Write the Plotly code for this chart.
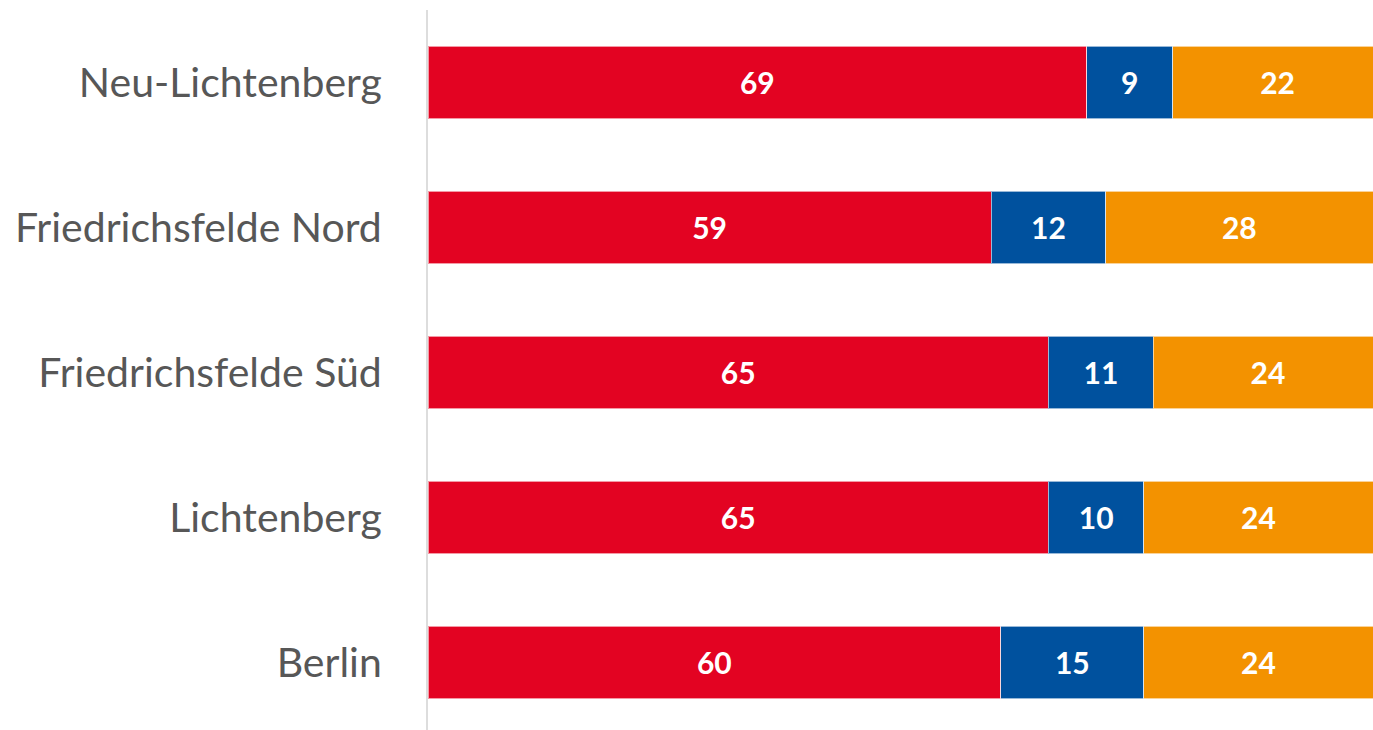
import plotly.graph_objects as go

categories = ["Neu-Lichtenberg", "Friedrichsfelde Nord", "Friedrichsfelde Süd", "Lichtenberg", "Berlin"]
red_values = [69, 59, 65, 65, 60]
blue_values = [9, 12, 11, 10, 15]
orange_values = [22, 28, 24, 24, 24]

series = [
    ("rot", red_values, "#E30322"),
    ("blau", blue_values, "#00519E"),
    ("orange", orange_values, "#F39200"),
]

fig = go.Figure()
for name, vals, color in series:
    fig.add_trace(go.Bar(
        y=categories, x=vals, name=name, orientation="h",
        marker=dict(color=color, line=dict(color="rgba(255,255,255,0.6)", width=1)),
        width=0.5,
        text=[str(v) for v in vals], textposition="inside", insidetextanchor="middle",
        textfont=dict(family="Lato", size=30, color="white", weight="bold"),
        constraintext="none", cliponaxis=True,
    ))

fig.update_layout(
    barmode="stack",
    width=1373, height=730,
    margin=dict(l=428, r=0, t=10, b=0),
    paper_bgcolor="white", plot_bgcolor="white",
    showlegend=False,
    uniformtext=dict(mode=False),
    xaxis=dict(range=[0, 99], visible=False, fixedrange=True),
    yaxis=dict(
        categoryorder="array", categoryarray=categories,
        range=[4.466, -0.5], autorange=False, fixedrange=True,
        showline=True, linecolor="#DDDDDD", linewidth=2,
        showgrid=False, zeroline=False, ticks="", ticklabelstandoff=36,
        tickfont=dict(family="Lato", size=41, color="#575757"),
    ),
)

fig.write_html(
    "out.html",
    config={"displayModeBar": False},
    post_script="document.body.style.margin='0';document.body.style.overflow='hidden';",
)
